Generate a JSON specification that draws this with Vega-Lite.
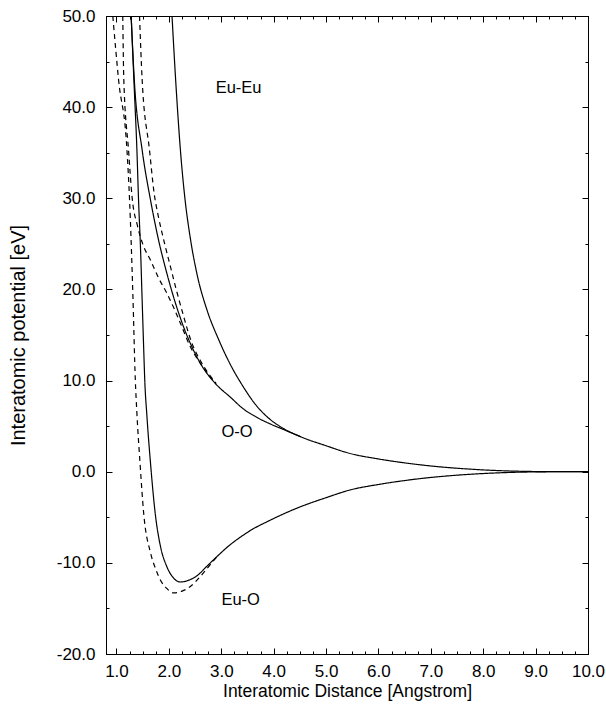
{
  "$schema": "https://vega.github.io/schema/vega-lite/v6.json",
  "width": 482,
  "height": 638,
  "autosize": {"type": "none"},
  "padding": {"left": 106, "top": 16, "right": 18, "bottom": 50},
  "background": "white",
  "config": {
    "view": {"stroke": "black", "strokeWidth": 1},
    "font": "Liberation Sans",
    "axis": {
      "grid": false,
      "domainColor": "black",
      "tickColor": "black",
      "labelColor": "black",
      "titleColor": "black",
      "labelFont": "Liberation Sans",
      "titleFont": "Liberation Sans",
      "labelFontSize": 17,
      "titleFontSize": 17.5,
      "titleFontWeight": "normal",
      "labelOverlap": false,
      "labelFlush": false
    }
  },
  "layer": [
    {
      "data": {
        "values": [
          {"s": "EuEu", "d": "solid", "x": 2.06, "y": 50},
          {"s": "EuEu", "d": "solid", "x": 2.14, "y": 42},
          {"s": "EuEu", "d": "solid", "x": 2.22, "y": 35.3},
          {"s": "EuEu", "d": "solid", "x": 2.31, "y": 29.8},
          {"s": "EuEu", "d": "solid", "x": 2.41, "y": 25.6},
          {"s": "EuEu", "d": "solid", "x": 2.54, "y": 21.6},
          {"s": "EuEu", "d": "solid", "x": 2.73, "y": 17.7},
          {"s": "EuEu", "d": "solid", "x": 2.95, "y": 14.5},
          {"s": "EuEu", "d": "solid", "x": 3.17, "y": 11.8},
          {"s": "EuEu", "d": "solid", "x": 3.4, "y": 9.5},
          {"s": "EuEu", "d": "solid", "x": 3.65, "y": 7.4},
          {"s": "EuEu", "d": "solid", "x": 3.9, "y": 5.9},
          {"s": "EuEu", "d": "solid", "x": 4.2, "y": 4.7},
          {"s": "EuEu", "d": "solid", "x": 4.51, "y": 3.85},
          {"s": "EuEu", "d": "solid", "x": 5.0, "y": 2.85},
          {"s": "EuEu", "d": "solid", "x": 5.46, "y": 2.0},
          {"s": "EuEu", "d": "solid", "x": 6.0, "y": 1.4},
          {"s": "EuEu", "d": "solid", "x": 6.5, "y": 0.97},
          {"s": "EuEu", "d": "solid", "x": 7.0, "y": 0.63},
          {"s": "EuEu", "d": "solid", "x": 7.5, "y": 0.38},
          {"s": "EuEu", "d": "solid", "x": 8.0, "y": 0.2},
          {"s": "EuEu", "d": "solid", "x": 8.5, "y": 0.08},
          {"s": "EuEu", "d": "solid", "x": 9.0, "y": 0.02},
          {"s": "EuEu", "d": "solid", "x": 9.5, "y": 0},
          {"s": "EuEu", "d": "solid", "x": 10, "y": 0},

          {"s": "OO", "d": "solid", "x": 1.28, "y": 50},
          {"s": "OO", "d": "solid", "x": 1.34, "y": 43},
          {"s": "OO", "d": "solid", "x": 1.49, "y": 35.3},
          {"s": "OO", "d": "solid", "x": 1.65, "y": 29.8},
          {"s": "OO", "d": "solid", "x": 1.8, "y": 25.5},
          {"s": "OO", "d": "solid", "x": 1.96, "y": 21.8},
          {"s": "OO", "d": "solid", "x": 2.12, "y": 18.6},
          {"s": "OO", "d": "solid", "x": 2.28, "y": 15.9},
          {"s": "OO", "d": "solid", "x": 2.44, "y": 13.7},
          {"s": "OO", "d": "solid", "x": 2.6, "y": 11.9},
          {"s": "OO", "d": "solid", "x": 2.9, "y": 9.6},
          {"s": "OO", "d": "solid", "x": 3.17, "y": 8.2},
          {"s": "OO", "d": "solid", "x": 3.42, "y": 6.9},
          {"s": "OO", "d": "solid", "x": 3.7, "y": 5.9},
          {"s": "OO", "d": "solid", "x": 3.95, "y": 5.2},
          {"s": "OO", "d": "solid", "x": 4.2, "y": 4.6},
          {"s": "OO", "d": "solid", "x": 4.51, "y": 3.85},

          {"s": "EuO", "d": "solid", "x": 1.28, "y": 50},
          {"s": "EuO", "d": "solid", "x": 1.34, "y": 42},
          {"s": "EuO", "d": "solid", "x": 1.39, "y": 35.3},
          {"s": "EuO", "d": "solid", "x": 1.42, "y": 30},
          {"s": "EuO", "d": "solid", "x": 1.46, "y": 24.3},
          {"s": "EuO", "d": "solid", "x": 1.49, "y": 18.8},
          {"s": "EuO", "d": "solid", "x": 1.52, "y": 13.4},
          {"s": "EuO", "d": "solid", "x": 1.54, "y": 10},
          {"s": "EuO", "d": "solid", "x": 1.58, "y": 6.2},
          {"s": "EuO", "d": "solid", "x": 1.65, "y": 0.9},
          {"s": "EuO", "d": "solid", "x": 1.74, "y": -4.6},
          {"s": "EuO", "d": "solid", "x": 1.84, "y": -8.2},
          {"s": "EuO", "d": "solid", "x": 1.96, "y": -10.4},
          {"s": "EuO", "d": "solid", "x": 2.08, "y": -11.6},
          {"s": "EuO", "d": "solid", "x": 2.22, "y": -12.1},
          {"s": "EuO", "d": "solid", "x": 2.38, "y": -11.9},
          {"s": "EuO", "d": "solid", "x": 2.54, "y": -11.4},
          {"s": "EuO", "d": "solid", "x": 2.72, "y": -10.4},
          {"s": "EuO", "d": "solid", "x": 2.92, "y": -9.3},
          {"s": "EuO", "d": "solid", "x": 3.14, "y": -8.15},
          {"s": "EuO", "d": "solid", "x": 3.36, "y": -7.2},
          {"s": "EuO", "d": "solid", "x": 3.6, "y": -6.3},
          {"s": "EuO", "d": "solid", "x": 3.87, "y": -5.5},
          {"s": "EuO", "d": "solid", "x": 4.2, "y": -4.6},
          {"s": "EuO", "d": "solid", "x": 4.51, "y": -3.85},
          {"s": "EuO", "d": "solid", "x": 5.0, "y": -2.85},
          {"s": "EuO", "d": "solid", "x": 5.46, "y": -2.0},
          {"s": "EuO", "d": "solid", "x": 6.0, "y": -1.4},
          {"s": "EuO", "d": "solid", "x": 6.5, "y": -0.97},
          {"s": "EuO", "d": "solid", "x": 7.0, "y": -0.63},
          {"s": "EuO", "d": "solid", "x": 7.5, "y": -0.38},
          {"s": "EuO", "d": "solid", "x": 8.0, "y": -0.2},
          {"s": "EuO", "d": "solid", "x": 8.5, "y": -0.08},
          {"s": "EuO", "d": "solid", "x": 9.0, "y": -0.02},
          {"s": "EuO", "d": "solid", "x": 9.5, "y": 0},
          {"s": "EuO", "d": "solid", "x": 10, "y": 0},

          {"s": "EuOd", "d": "dashed", "x": 0.93, "y": 50},
          {"s": "EuOd", "d": "dashed", "x": 1.04, "y": 43},
          {"s": "EuOd", "d": "dashed", "x": 1.2, "y": 35.3},
          {"s": "EuOd", "d": "dashed", "x": 1.25, "y": 29.8},
          {"s": "EuOd", "d": "dashed", "x": 1.31, "y": 20},
          {"s": "EuOd", "d": "dashed", "x": 1.36, "y": 10},
          {"s": "EuOd", "d": "dashed", "x": 1.39, "y": 6.4},
          {"s": "EuOd", "d": "dashed", "x": 1.45, "y": 0.9},
          {"s": "EuOd", "d": "dashed", "x": 1.52, "y": -4.6},
          {"s": "EuOd", "d": "dashed", "x": 1.65, "y": -8.9},
          {"s": "EuOd", "d": "dashed", "x": 1.75, "y": -10.7},
          {"s": "EuOd", "d": "dashed", "x": 1.84, "y": -11.9},
          {"s": "EuOd", "d": "dashed", "x": 1.96, "y": -12.8},
          {"s": "EuOd", "d": "dashed", "x": 2.09, "y": -13.3},
          {"s": "EuOd", "d": "dashed", "x": 2.25, "y": -13.1},
          {"s": "EuOd", "d": "dashed", "x": 2.41, "y": -12.6},
          {"s": "EuOd", "d": "dashed", "x": 2.6, "y": -11.5},
          {"s": "EuOd", "d": "dashed", "x": 2.76, "y": -10.4},
          {"s": "EuOd", "d": "dashed", "x": 2.92, "y": -9.3},

          {"s": "OOd1", "d": "dashed", "x": 1.12, "y": 50},
          {"s": "OOd1", "d": "dashed", "x": 1.14, "y": 43},
          {"s": "OOd1", "d": "dashed", "x": 1.23, "y": 35.3},
          {"s": "OOd1", "d": "dashed", "x": 1.3, "y": 30},
          {"s": "OOd1", "d": "dashed", "x": 1.4, "y": 27},
          {"s": "OOd1", "d": "dashed", "x": 1.5, "y": 25},
          {"s": "OOd1", "d": "dashed", "x": 1.65, "y": 23.2},
          {"s": "OOd1", "d": "dashed", "x": 1.8, "y": 21.3},
          {"s": "OOd1", "d": "dashed", "x": 1.96, "y": 19.6},
          {"s": "OOd1", "d": "dashed", "x": 2.1, "y": 17.9},
          {"s": "OOd1", "d": "dashed", "x": 2.22, "y": 16.3},
          {"s": "OOd1", "d": "dashed", "x": 2.41, "y": 13.7},
          {"s": "OOd1", "d": "dashed", "x": 2.6, "y": 11.9},
          {"s": "OOd1", "d": "dashed", "x": 2.9, "y": 9.6},

          {"s": "OOd2", "d": "dashed", "x": 1.44, "y": 50},
          {"s": "OOd2", "d": "dashed", "x": 1.49, "y": 43},
          {"s": "OOd2", "d": "dashed", "x": 1.63, "y": 35.3},
          {"s": "OOd2", "d": "dashed", "x": 1.72, "y": 30.5},
          {"s": "OOd2", "d": "dashed", "x": 1.8, "y": 28},
          {"s": "OOd2", "d": "dashed", "x": 1.92, "y": 25},
          {"s": "OOd2", "d": "dashed", "x": 2.03, "y": 22.5},
          {"s": "OOd2", "d": "dashed", "x": 2.14, "y": 20},
          {"s": "OOd2", "d": "dashed", "x": 2.25, "y": 17.7},
          {"s": "OOd2", "d": "dashed", "x": 2.44, "y": 14.1},
          {"s": "OOd2", "d": "dashed", "x": 2.6, "y": 12.2},
          {"s": "OOd2", "d": "dashed", "x": 2.9, "y": 9.7}
        ]
      },
      "mark": {"type": "line", "clip": true, "strokeWidth": 1.2, "color": "black", "interpolate": "monotone"},
      "encoding": {
        "x": {
          "field": "x", "type": "quantitative",
          "scale": {"domain": [0.8, 10], "nice": false, "zero": false},
          "axis": {
            "orient": "bottom",
            "values": [1, 1.25, 1.5, 1.75, 2, 2.25, 2.5, 2.75, 3, 3.25, 3.5, 3.75, 4, 4.25, 4.5, 4.75, 5, 5.25, 5.5, 5.75, 6, 6.25, 6.5, 6.75, 7, 7.25, 7.5, 7.75, 8, 8.25, 8.5, 8.75, 9, 9.25, 9.5, 9.75, 10],
            "tickSize": {"condition": {"test": "datum.value % 1 === 0", "value": -6}, "value": -3},
            "labelExpr": "datum.value % 1 === 0 ? format(datum.value, '.1f') : ''",
            "labelPadding": 15,
            "title": "Interatomic Distance [Angstrom]",
            "titleX": 241,
            "titleY": 37,
            "titleBaseline": "middle"
          }
        },
        "y": {
          "field": "y", "type": "quantitative",
          "scale": {"domain": [-20, 50], "nice": false, "zero": false},
          "axis": {
            "orient": "left",
            "values": [-20, -15, -10, -5, 0, 5, 10, 15, 20, 25, 30, 35, 40, 45, 50],
            "tickSize": {"condition": {"test": "datum.value % 10 === 0", "value": -6}, "value": -3},
            "labelExpr": "datum.value % 10 === 0 ? replace(format(datum.value, '.1f'), '\u2212', '-') : ''",
            "labelPadding": 17,
            "title": "Interatomic potential [eV]",
            "titleFontSize": 20,
            "titleX": -88,
            "titleY": 319,
            "titleBaseline": "middle",
            "titleAlign": "center"
          }
        },
        "detail": {"field": "s"},
        "strokeDash": {
          "field": "d", "type": "nominal",
          "scale": {"domain": ["solid", "dashed"], "range": [[1, 0], [5, 4]]},
          "legend": null
        }
      }
    },
    {
      "data": {
        "values": [
          {"t": "Eu-Eu", "x": 3.33, "y": 42.1},
          {"t": "O-O", "x": 3.3, "y": 4.4},
          {"t": "Eu-O", "x": 3.37, "y": -14.1}
        ]
      },
      "mark": {"type": "text", "fontSize": 16.5, "font": "Liberation Sans", "color": "black"},
      "encoding": {
        "x": {
          "field": "x", "type": "quantitative",
          "axis": {
            "orient": "top",
            "values": [1, 1.25, 1.5, 1.75, 2, 2.25, 2.5, 2.75, 3, 3.25, 3.5, 3.75, 4, 4.25, 4.5, 4.75, 5, 5.25, 5.5, 5.75, 6, 6.25, 6.5, 6.75, 7, 7.25, 7.5, 7.75, 8, 8.25, 8.5, 8.75, 9, 9.25, 9.5, 9.75, 10],
            "tickSize": {"condition": {"test": "datum.value % 1 === 0", "value": -6}, "value": -3},
            "labels": false,
            "title": null
          }
        },
        "y": {
          "field": "y", "type": "quantitative",
          "axis": {
            "orient": "right",
            "values": [-20, -15, -10, -5, 0, 5, 10, 15, 20, 25, 30, 35, 40, 45, 50],
            "tickSize": {"condition": {"test": "datum.value % 10 === 0", "value": -6}, "value": -3},
            "labels": false,
            "title": null
          }
        },
        "text": {"field": "t"}
      }
    }
  ],
  "resolve": {"axis": {"x": "independent", "y": "independent"}}
}
